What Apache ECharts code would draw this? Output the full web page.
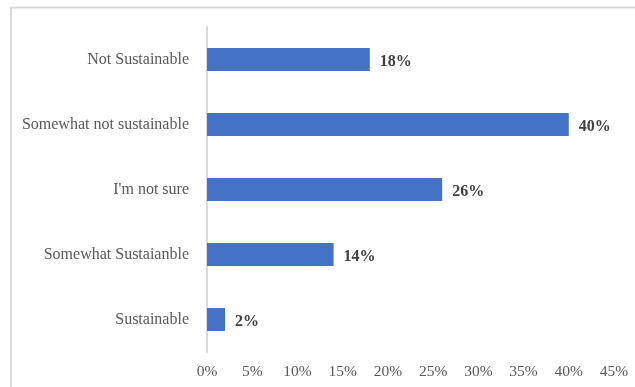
<!DOCTYPE html>
<html>
<head>
<meta charset="utf-8">
<script src="https://cdn.jsdelivr.net/npm/echarts@6/dist/echarts.min.js"></script>
<style>
  html, body { margin: 0; padding: 0; background: #fff; }
  #chart { width: 635px; height: 387px; }
</style>
</head>
<body>
<div id="chart"></div>
<script>
// Survey responses, listed top to bottom as shown
const categories = [
  'Not Sustainable',
  'Somewhat not sustainable',
  "I'm not sure",
  'Somewhat Sustaianble',
  'Sustainable'
];
const shares = [18, 40, 26, 14, 2];
const tickStep = 5;
const tickMax = 45;

const chart = echarts.init(document.getElementById('chart'), null, { renderer: 'canvas' });
const font = '"Liberation Serif", "Times New Roman", serif';

chart.setOption({
  animation: false,
  backgroundColor: '#ffffff',
  graphic: [{
    type: 'rect',
    shape: { x: 11, y: 7.5, width: 700, height: 500 },
    style: { fill: 'none', stroke: '#d9d9d9', lineWidth: 2 },
    silent: true
  }],
  grid: { left: 207, right: 21, top: 27, bottom: 35 },
  xAxis: {
    type: 'value',
    min: 0,
    max: tickMax,
    interval: tickStep,
    axisLine: { show: false },
    axisTick: { show: false },
    splitLine: { show: false },
    axisLabel: {
      formatter: v => v + '%',
      fontFamily: font,
      fontSize: 15.5,
      color: '#595959',
      margin: 12
    }
  },
  yAxis: {
    type: 'category',
    data: categories,
    inverse: true,
    axisLine: { show: true, lineStyle: { color: '#d9d9d9', width: 2 } },
    axisTick: { show: false },
    axisLabel: {
      fontFamily: font,
      fontSize: 16,
      color: '#595959',
      margin: 18,
      padding: [3, 0, 0, 0]
    }
  },
  series: [{
    type: 'bar',
    data: shares,
    barWidth: 23,
    itemStyle: { color: '#4472c4' },
    label: {
      show: true,
      position: 'right',
      distance: 10,
      offset: [0, 2],
      formatter: p => p.value + '%',
      fontFamily: font,
      fontSize: 16,
      fontWeight: 'bold',
      color: '#404040'
    }
  }]
});
</script>
</body>
</html>
